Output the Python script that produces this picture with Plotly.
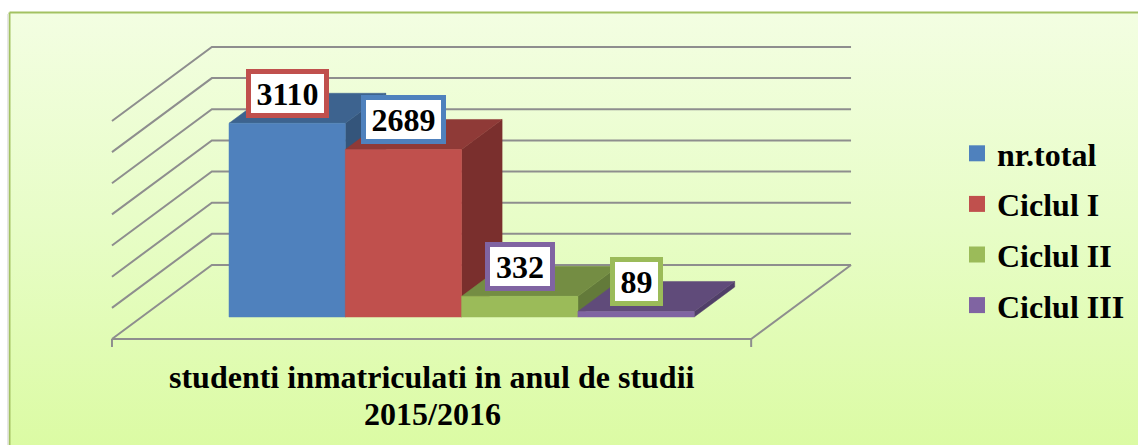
import plotly.graph_objects as go

# ---- data ----
series_names = ["nr.total", "Ciclul I", "Ciclul II", "Ciclul III"]
series_values = [3110, 2689, 332, 89]
front_colors = ["#4F81BD", "#C0504D", "#9BBB59", "#8064A2"]
top_colors = ["#3D638F", "#8F3A37", "#748D43", "#604B7A"]
side_colors = ["#34557B", "#7A2F2D", "#637A3A", "#503F68"]
label_border_colors = ["#C0504D", "#4F81BD", "#8064A2", "#9BBB59"]
label_widths = [73, 75, 60, 43]
axis_ticks = [0, 500, 1000, 1500, 2000, 2500, 3000, 3500]
category_title_lines = ["studenti inmatriculati in anul de studii", "2015/2016"]

FONT = "Liberation Serif"
W, H = 1138, 445
# pixel layout of the projection
BASE_PX, BAR_LEFT_PX, BAR_W_PX = 317.0, 229.0, 116.3
VAL_PX = 0.0623          # px per unit of value
DEPTH_X, DEPTH_Y = 40.5, 30.0   # px per unit of depth
D_FRONT, D_BACK = -0.733, 1.733
X_LEFT, X_RIGHT = -0.751, 4.745  # wall extents in category units

kx = DEPTH_X / BAR_W_PX
ky = DEPTH_Y / VAL_PX

def proj(cat, depth, val):
    """Oblique projection of a (category, depth, value) point to axis units."""
    return cat + depth * kx, val + depth * ky

def poly(points, color=None, line=None, **kw):
    xs, ys = zip(*[proj(*p) for p in points])
    if color:
        return go.Scatter(x=xs, y=ys, mode="lines", fill="toself", fillcolor=color,
                          line=dict(width=0.5, color=color), hoverinfo="skip",
                          showlegend=False, **kw)
    return go.Scatter(x=xs, y=ys, mode="lines", line=line, hoverinfo="skip",
                      showlegend=False, **kw)

def px_x(p):
    return (p - BAR_LEFT_PX) / BAR_W_PX

def px_y(p):
    return (BASE_PX - p) / VAL_PX

fig = go.Figure()

# background panel with vertical gradient
fig.add_trace(go.Scatter(
    x=[px_x(9.5), px_x(W + 5), px_x(W + 5), px_x(9.5), px_x(9.5)],
    y=[px_y(12.5), px_y(12.5), px_y(H + 5), px_y(H + 5), px_y(12.5)],
    mode="lines", line=dict(color="#A3C262", width=2), hoverinfo="skip", showlegend=False,
    fill="toself",
    fillgradient=dict(type="vertical",
                      colorscale=[[0, "#DBFBA3"], [0.5, "#E7FDC6"], [1, "#F3FEE2"]]),
))

# walls and floor gridlines
grid = dict(color="#8E8E8E", width=2)
for v in axis_ticks:
    fig.add_trace(poly([(X_LEFT, D_FRONT, v), (X_LEFT, D_BACK, v), (X_RIGHT, D_BACK, v)], line=grid))
fig.add_trace(poly([(X_RIGHT, D_BACK, 0), (X_RIGHT, D_FRONT, 0), (X_LEFT, D_FRONT, 0)], line=grid))
tick_drop = 8 / VAL_PX
for c in (X_LEFT, X_RIGHT):
    fig.add_trace(poly([(c, D_FRONT, 0), (c, D_FRONT, -tick_drop)], line=grid))

# bars
for i, val in enumerate(series_values):
    a, b = i, i + 1
    fig.add_trace(poly([(b, 0, 0), (b, 1, 0), (b, 1, val), (b, 0, val), (b, 0, 0)], side_colors[i]))
    fig.add_trace(poly([(a, 0, val), (b, 0, val), (b, 1, val), (a, 1, val), (a, 0, val)], top_colors[i]))
    fig.add_trace(poly([(a, 0, 0), (b, 0, 0), (b, 0, val), (a, 0, val), (a, 0, 0)], front_colors[i]))

# legend entries
for i, name in enumerate(series_names):
    fig.add_trace(go.Scatter(x=[None], y=[None], mode="markers", name=name, legendgroup=name,
                             marker=dict(symbol="square", size=17, color=front_colors[i])))

annotations = [
    dict(x=i + 0.5, y=v, xref="x", yref="y", yshift=30, showarrow=False, text=f"<b>{v}</b>",
         font=dict(family=FONT, size=32, color="black"), bgcolor="white",
         bordercolor=label_border_colors[i], borderwidth=5, borderpad=0,
         width=label_widths[i], height=39, align="center", valign="middle")
    for i, v in enumerate(series_values)
]
for line, y_px in zip(category_title_lines, (377, 414)):
    annotations.append(dict(x=432 / W, y=1 - y_px / H, xref="paper", yref="paper", showarrow=False,
                            xanchor="center", yanchor="middle", text=f"<b>{line}</b>",
                            font=dict(family=FONT, size=32, color="black")))

fig.update_layout(
    width=W, height=H, margin=dict(l=0, r=0, t=0, b=0),
    paper_bgcolor="white", plot_bgcolor="rgba(0,0,0,0)",
    xaxis=dict(range=[px_x(0), px_x(W)], visible=False, fixedrange=True),
    yaxis=dict(range=[px_y(H), px_y(0)], visible=False, fixedrange=True),
    showlegend=True,
    legend=dict(x=957 / W, y=1 - 126 / H, xanchor="left", yanchor="top",
                bgcolor="rgba(0,0,0,0)", tracegroupgap=6, traceorder="grouped",
                itemclick=False, itemdoubleclick=False,
                font=dict(family=FONT, size=32, color="black", weight="bold")),
    annotations=annotations,
    shapes=[dict(type="rect", xref="paper", yref="paper", x0=7 / W, x1=8.5 / W, y0=0, y1=1 - 14 / H,
                 fillcolor="#E6E6E6", line=dict(width=0))],
)

fig.write_html("out.html", config=dict(displayModeBar=False),
               post_script="document.body.style.margin='0';document.body.style.overflow='hidden';")
